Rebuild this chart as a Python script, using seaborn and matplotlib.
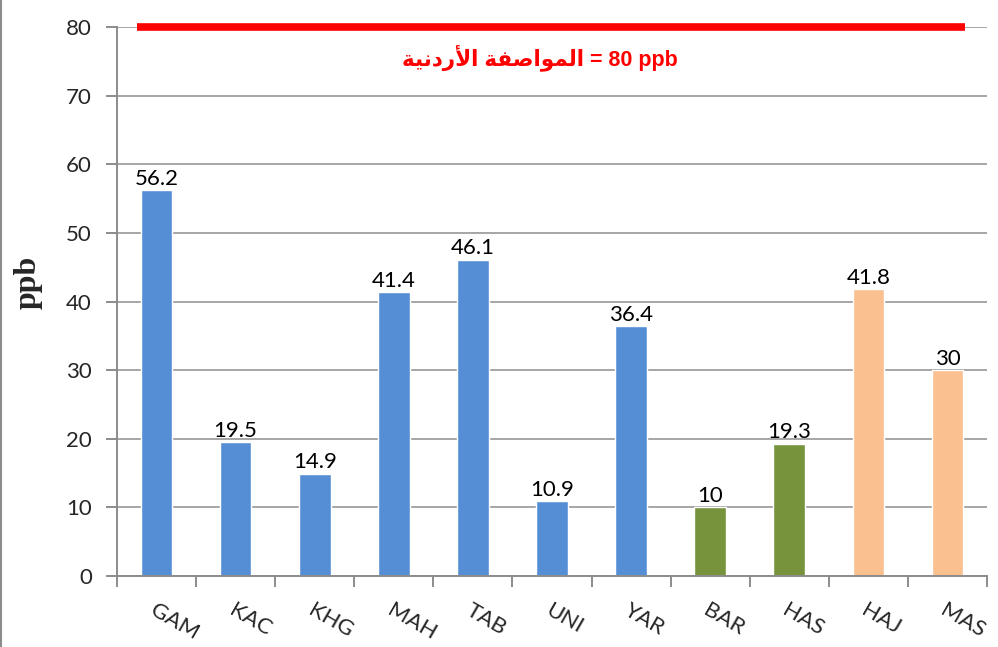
import seaborn as sns
import matplotlib.pyplot as plt
import pandas as pd
from matplotlib.lines import Line2D

sites = ['GAM', 'KAC', 'KHG', 'MAH', 'TAB', 'UNI', 'YAR', 'BAR', 'HAS', 'HAJ', 'MAS']
values = [56.2, 19.5, 14.9, 41.4, 46.1, 10.9, 36.4, 10, 19.3, 41.8, 30]
groups = ['A', 'A', 'A', 'A', 'A', 'A', 'A', 'B', 'B', 'C', 'C']
group_colors = {'A': '#558ED5', 'B': '#77933C', 'C': '#FAC090'}
limit = 80

# Arabic label in visual order with presentation forms (no shaping engine available)
arabic = ('\uFE94\uFEF4\uFEE7\uFEA9\uFEAD\uFEF7\uFE8D '
          '\uFE94\uFED4\uFEBB\uFE8D\uFEEE\uFEE4\uFEDF\uFE8D')
limit_label = f'{arabic} = {limit} ppb'

df = pd.DataFrame({'site': sites, 'value': values, 'group': groups})

sns.set_style('white')
plt.rcParams['font.family'] = ['Lato', 'DejaVu Sans']

fig = plt.figure(figsize=(9.98, 6.47), dpi=100)
ax = fig.add_axes([0.1172, 0.1097, 0.8718, 0.8483])

sns.barplot(data=df, x='site', y='value', hue='group', palette=group_colors,
            dodge=False, width=0.4, legend=False, saturation=1, ax=ax)

for c in ax.containers:
    labels = [f'{v:g}' if v > 0 else '' for v in c.datavalues]
    ax.bar_label(c, labels=labels, fontsize=16, padding=1, color='black')

ax.set_ylim(0, 80)
ax.set_xlim(-0.5, len(sites) - 0.5)
ax.set_yticks(range(0, 81, 10))
ax.yaxis.grid(True, color='#A6A6A6', lw=1.4)
ax.set_axisbelow(True)

# limit line
ax.hlines(limit, -0.25, 10.22, color='#FF0000', lw=5.5, clip_on=False, zorder=5)
ax.text(4.85, 75.6, limit_label, color='#FF0000', fontsize=15.5, fontweight='bold',
        ha='center', va='center', family=['Liberation Sans', 'DejaVu Sans'])

for s in ['top', 'right']:
    ax.spines[s].set_visible(False)
for s in ['left', 'bottom']:
    ax.spines[s].set_color('#8C8C8C')
    ax.spines[s].set_linewidth(1.4)

ax.tick_params(axis='y', which='major', left=True, length=8, width=1.4,
               color='#8C8C8C', labelsize=16, pad=10)
ax.set_xticks([i - 0.5 for i in range(len(sites) + 1)], minor=True)
ax.tick_params(axis='x', which='minor', bottom=True, length=8, width=1.4, color='#8C8C8C')
ax.tick_params(axis='x', which='major', bottom=False, labelsize=16, pad=14)
ax.set_xticks(range(len(sites)))
ax.set_xticklabels(sites, rotation=-30, ha='left', rotation_mode='anchor')

ax.set_xlabel('')
ax.set_ylabel('ppb', fontsize=23, fontweight='bold', family='Liberation Serif')
ax.yaxis.set_label_coords(-0.085, 0.535)

fig.add_artist(Line2D([0.001, 0.001], [0, 1], color='#8C8C8C', lw=1.5,
                      transform=fig.transFigure))

fig.savefig('out.png', dpi=100)
